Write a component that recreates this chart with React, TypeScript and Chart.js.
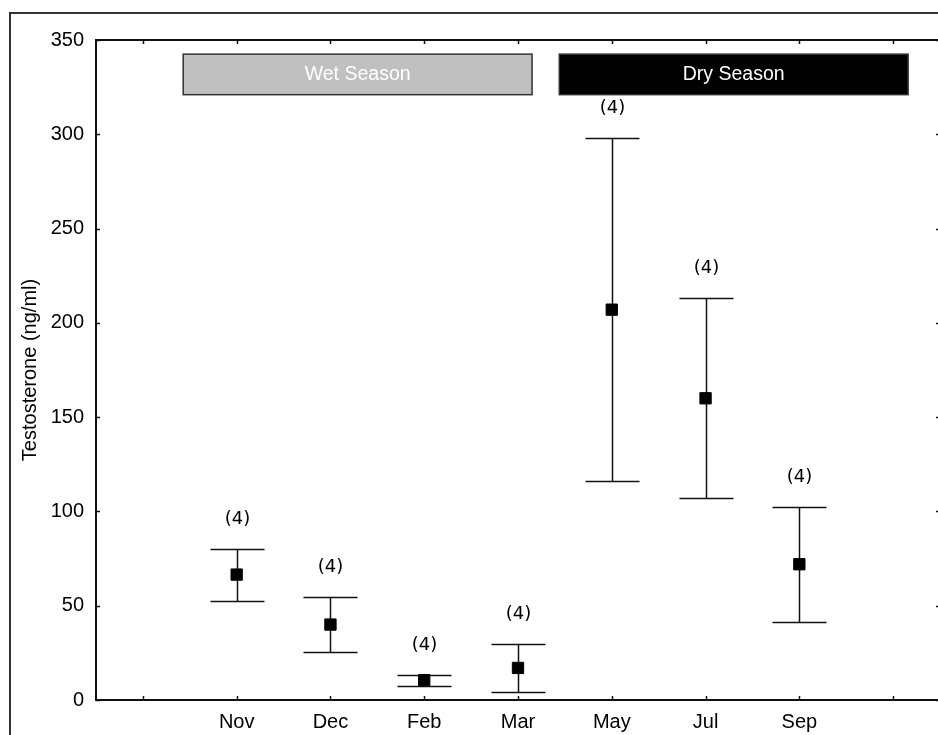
import React, { useEffect, useRef } from 'react';
import { Chart, registerables } from 'chart.js';

Chart.register(...registerables);

// ---- Data ----
const months = ['Nov', 'Dec', 'Feb', 'Mar', 'May', 'Jul', 'Sep'];
const meanValues = [66.5, 40, 10.5, 17, 207, 160, 72];
const upperValues = [80, 54.5, 13.5, 29.5, 298, 213, 102.5];
const lowerValues = [52.5, 25.5, 7.5, 4.5, 116, 107, 41.5];
const sampleSizes = [4, 4, 4, 4, 4, 4, 4];
const yTickValues = [0, 50, 100, 150, 200, 250, 300, 350];
const xTickValues = [-1, 0, 1, 2, 3, 4, 5, 6, 7];

const seasonNames = ['Wet Season', 'Dry Season'];
const seasonStart = [-0.57, 3.44];
const seasonEnd = [3.15, 7.16];
const seasonLow = [321, 321];
const seasonHigh = [342.5, 342.5];
const seasonFill = ['#c0c0c0', '#000000'];

const FONT = "'Liberation Sans', Arial, sans-serif";

const decorPlugin = {
  id: 'decor',
  beforeDatasetsDraw(chart: any) {
    const { ctx, chartArea: a, scales } = chart;
    const xs = scales.x;
    const ys = scales.y;
    ctx.save();
    // outer frame
    ctx.strokeStyle = '#333';
    ctx.lineWidth = 2;
    ctx.strokeRect(10, 13, 2000, 2000);

    // axes box
    ctx.strokeStyle = '#111';
    ctx.lineWidth = 2;
    ctx.strokeRect(a.left, a.top, a.right - a.left, a.bottom - a.top);

    // inward ticks
    ctx.lineWidth = 1.5;
    const tl = 4;
    xTickValues.forEach((v) => {
      const px = Math.round(xs.getPixelForValue(v)) + 0.5;
      ctx.beginPath();
      ctx.moveTo(px, a.bottom);
      ctx.lineTo(px, a.bottom - tl);
      ctx.moveTo(px, a.top);
      ctx.lineTo(px, a.top + tl);
      ctx.stroke();
    });
    yTickValues.forEach((v) => {
      const py = Math.round(ys.getPixelForValue(v)) + 0.5;
      ctx.beginPath();
      ctx.moveTo(a.left, py);
      ctx.lineTo(a.left + tl, py);
      ctx.moveTo(a.right, py);
      ctx.lineTo(a.right - tl, py);
      ctx.stroke();
    });

    // season boxes
    seasonNames.forEach((name, i) => {
      const x0 = xs.getPixelForValue(seasonStart[i]);
      const x1 = xs.getPixelForValue(seasonEnd[i]);
      const y0 = ys.getPixelForValue(seasonHigh[i]);
      const y1 = ys.getPixelForValue(seasonLow[i]);
      ctx.fillStyle = seasonFill[i];
      ctx.fillRect(x0, y0, x1 - x0, y1 - y0);
      ctx.strokeStyle = '#333';
      ctx.lineWidth = 1.5;
      ctx.strokeRect(x0, y0, x1 - x0, y1 - y0);
      ctx.fillStyle = '#ffffff';
      ctx.font = `19.5px ${FONT}`;
      ctx.textAlign = 'center';
      ctx.textBaseline = 'middle';
      ctx.fillText(name, (x0 + x1) / 2, (y0 + y1) / 2);
    });

    // error bars
    ctx.strokeStyle = '#111';
    ctx.lineWidth = 1.5;
    const capHalf = 27;
    months.forEach((m, i) => {
      const px = Math.round(xs.getPixelForValue(i)) + 0.5;
      const pu = Math.round(ys.getPixelForValue(upperValues[i])) + 0.5;
      const pl = Math.round(ys.getPixelForValue(lowerValues[i])) + 0.5;
      ctx.beginPath();
      ctx.moveTo(px, pu);
      ctx.lineTo(px, pl);
      ctx.moveTo(px - capHalf, pu);
      ctx.lineTo(px + capHalf, pu);
      ctx.moveTo(px - capHalf, pl);
      ctx.lineTo(px + capHalf, pl);
      ctx.stroke();
      ctx.fillStyle = '#000';
      ctx.font = "18px 'DejaVu Sans', sans-serif";
      ctx.textAlign = 'center';
      ctx.textBaseline = 'middle';
      ctx.fillText(`(${sampleSizes[i]})`, px, pu - 30);
    });
    ctx.restore();
  },
};

export default function App() {
  const ref = useRef<HTMLCanvasElement | null>(null);
  useEffect(() => {
    if (!ref.current) return;
    const chart = new Chart(ref.current, {
      type: 'scatter',
      data: {
        datasets: [
          {
            data: meanValues.map((v, i) => ({ x: i, y: v })),
            pointStyle: 'rect',
            pointRadius: 8,
            pointBackgroundColor: '#000',
            pointBorderColor: '#000',
            pointBorderWidth: 1,
            showLine: false,
          },
        ],
      },
      options: {
        responsive: false,
        animation: false,
        events: [],
        layout: { padding: { top: 40, right: 20, left: 0, bottom: 0 } },
        plugins: { legend: { display: false }, tooltip: { enabled: false } },
        scales: {
          x: {
            type: 'linear',
            min: -1.5,
            max: 7.5,
            grid: { display: false, drawTicks: false },
            border: { display: false },
            afterBuildTicks: (s: any) => {
              s.ticks = xTickValues.map((v) => ({ value: v }));
            },
            afterFit: (s: any) => {
              s.height = 60;
            },
            ticks: {
              autoSkip: false,
              maxRotation: 0,
              padding: 10,
              color: '#000',
              font: { family: FONT, size: 20 },
              callback: (v: any) => months[Number(v)] ?? '',
            },
          },
          y: {
            min: 0,
            max: 350,
            grid: { display: false, drawTicks: false },
            border: { display: false },
            afterBuildTicks: (s: any) => {
              s.ticks = yTickValues.map((v) => ({ value: v }));
            },
            afterFit: (s: any) => {
              s.width = 96;
            },
            ticks: {
              padding: 12,
              color: '#000',
              font: { family: FONT, size: 20 },
            },
            title: {
              display: true,
              text: 'Testosterone (ng/ml)',
              color: '#000',
              font: { family: FONT, size: 20 },
              padding: { top: 18, bottom: 0 },
            },
          },
        },
      },
      plugins: [decorPlugin],
    });
    return () => chart.destroy();
  }, []);

  return (
    <div
      style={{
        position: 'fixed',
        left: 0,
        top: 0,
        width: 938,
        height: 735,
        overflow: 'hidden',
        background: '#fff',
      }}
    >
      <canvas ref={ref} width={960} height={760} style={{ display: 'block', width: 960, height: 760 }} />
    </div>
  );
}
